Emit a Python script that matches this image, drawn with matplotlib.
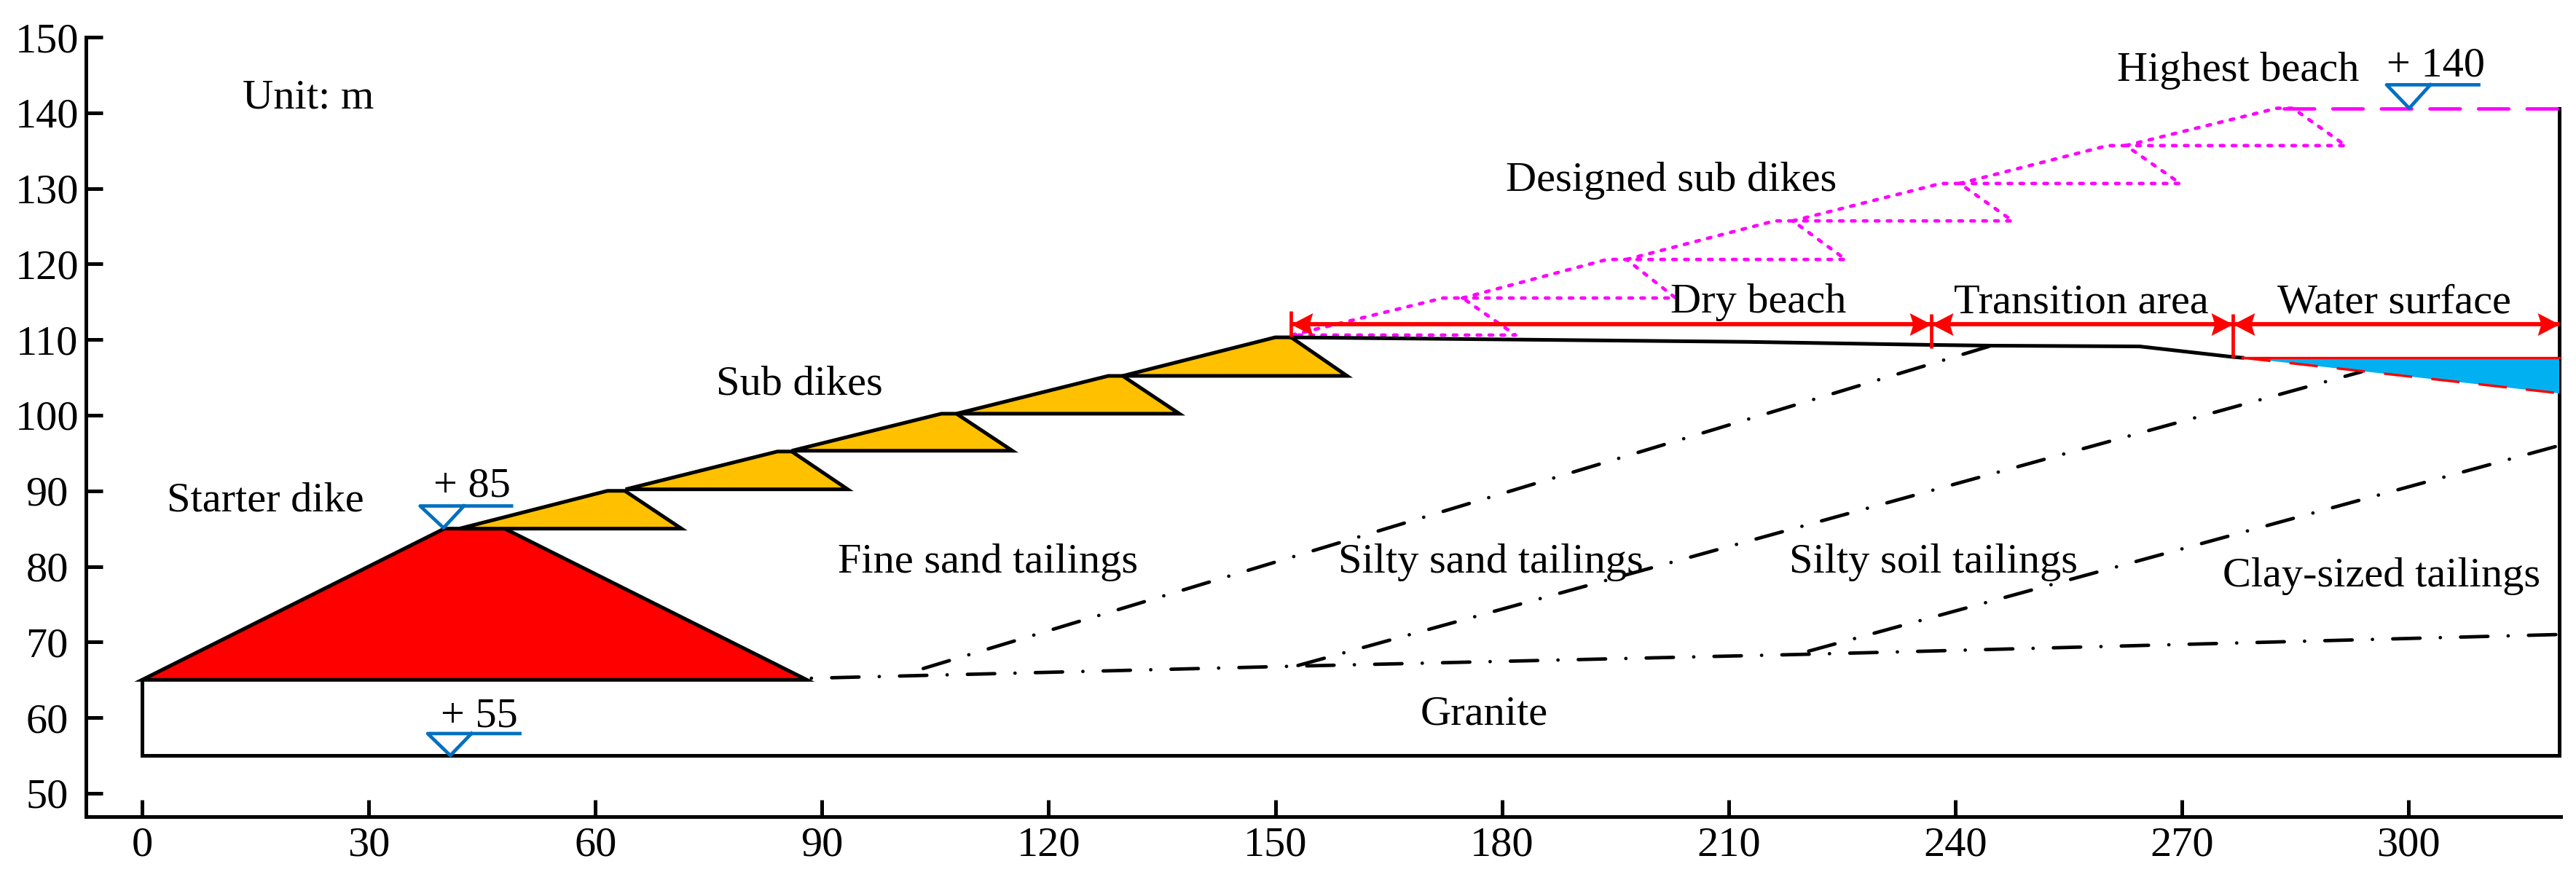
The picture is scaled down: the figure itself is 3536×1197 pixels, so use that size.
import matplotlib
matplotlib.use('Agg')
import matplotlib.pyplot as plt

plt.rcParams['font.family'] = ['Liberation Serif', 'DejaVu Serif']
plt.rcParams['lines.scale_dashes'] = False

W, H = 3537, 1197
FS = 42
LW = 3.6

x_ticks = list(range(0, 301, 30))
y_ticks = list(range(50, 151, 10))

starter_x = [0, 40, 48, 88]
starter_y = [65, 85, 85, 65]
found_x = [0, 0, 320, 320]
found_y = [65, 55, 55, 140.6]

# built sub dikes
sub_start = [42, 64, 86, 107.8, 129.8]
sub_crest_l = [61.6, 84.1, 105.8, 127.9, 150]
sub_crest_r = [63.9, 86, 107.8, 129.8, 152.1]
sub_tip = [71.4, 93.4, 115.2, 137.3, 159.5]
sub_base = [85, 90.2, 95.3, 100.2, 105.2]
sub_crest = [90, 95.2, 100.2, 105.2, 110.3]

# designed sub dikes
des_start = [152.2, 174.8, 196.5, 218.5, 240.6, 262.6]
des_crest_l = [172.2, 193.9, 216.1, 238.1, 260.2, 282.6]
des_crest_r = [174.8, 196.5, 218.5, 240.6, 262.6, 284.7]
des_tip = [181.8, 203, 225.5, 247.6, 269.8, 291.7]
des_base = [110.6, 115.5, 120.6, 125.7, 130.65, 135.66]
des_crest = [115.5, 120.6, 125.7, 130.65, 135.66, 140.6]
top_x = [283.5, 320]
top_y = [140.6, 140.6]

beach_x = [152.1, 212.6, 236.8, 244.8, 264.4, 276.8, 278]
beach_y = [110.3, 109.7, 109.3, 109.2, 109.1, 107.7, 107.6]

water_x = [278, 320, 320]
water_y = [107.6, 107.6, 102.9]

# tailings boundaries
bound_rock_x = [88, 152, 221, 320]
bound_rock_y = [65.2, 66.8, 68.4, 71]
bound1_x = [103.4, 244.8]
bound1_y = [66.5, 109.2]
bound2_x = [153, 293.8]
bound2_y = [66.9, 105.75]
bound3_x = [220.6, 320]
bound3_y = [68.8, 96]

# dimension line
dim_y = 112
dim_x = [152.1, 236.8, 276.8, 320]
bar_x = [152.1, 236.8, 276.8]
bar_top = [113.8, 113.4, 113.4]
bar_bot = [110.4, 108.9, 107.6]

# water level marks: apex, line start, line end, triangle right
lvl_apex_x = [39.9, 40.8, 300.1]
lvl_apex_y = [85.1, 55, 140.6]
lvl_top_y = [88, 57.9, 143.7]
lvl_left = [36.8, 37.8, 297.1]
lvl_right = [48.9, 50, 309.3]
lvl_tri_r = [42.6, 43.6, 302.9]

labels = [
    ('Unit: m', 13.3, 140.6),
    ('Starter dike', 3.3, 87.3),
    ('+ 85', 38.6, 89.25),
    ('+ 55', 39.5, 58.8),
    ('Sub dikes', 76, 102.7),
    ('Fine sand tailings', 92.1, 79.2),
    ('Silty sand tailings', 158.3, 79.2),
    ('Granite', 169.2, 59.1),
    ('Designed sub dikes', 180.5, 129.7),
    ('Dry beach', 202.3, 113.6),
    ('Highest beach', 261.4, 144.2),
    ('+ 140', 297.1, 144.8),
    ('Transition area', 239.8, 113.5),
    ('Water surface', 282.6, 113.5),
    ('Silty soil tailings', 218, 79.2),
    ('Clay-sized tailings', 275.4, 77.4),
]

fig = plt.figure(figsize=(W / 100, H / 100), dpi=100)
ax = fig.add_axes([118.3 / W, (H - 1120.5) / H, (3515 - 118.3) / W, (1120.5 - 51) / H])
ax.set_xlim(-7.4, 320.15)
ax.set_ylim(46.96, 150)

for s in ['top', 'right']:
    ax.spines[s].set_visible(False)
for s in ['left', 'bottom']:
    ax.spines[s].set_linewidth(LW)

ax.set_xticks(x_ticks)
ax.set_yticks(y_ticks)
ax.tick_params(axis='x', direction='in', length=16.5, width=LW, labelsize=FS, pad=10)
ax.tick_params(axis='y', direction='in', length=16.8, width=LW, labelsize=FS, pad=38.7)
for lab in ax.get_yticklabels():
    lab.set_ha('center')

ax.fill(starter_x, starter_y, fc='#FF0000', ec='black', lw=LW)
ax.plot(found_x, found_y, color='black', lw=LW, clip_on=False, solid_joinstyle='miter')

for i in range(len(sub_start)):
    ax.fill([sub_start[i], sub_crest_l[i], sub_crest_r[i], sub_tip[i]],
            [sub_base[i], sub_crest[i], sub_crest[i], sub_base[i]],
            fc='#FFC000', ec='black', lw=LW)

dots = (0, (3.5, 8.3))
for i in range(len(des_start)):
    ax.plot([des_start[i], des_crest_l[i], des_crest_r[i], des_tip[i], des_start[i]],
            [des_base[i], des_crest[i], des_crest[i], des_base[i], des_base[i]],
            color='#FF00FF', lw=3.4, ls=dots, dash_capstyle='round')
ax.plot(top_x, top_y, color='#FF00FF', lw=3.4, ls=(0, (30, 18)), dash_capstyle='round')

ax.plot(beach_x, beach_y, color='black', lw=LW)

# dash-dot boundaries
dd = (0, (27, 20, 0.1, 20))
dd_rock = (42.6, (27, 20, 0.1, 20))
ax.plot(bound_rock_x, bound_rock_y, color='black', lw=3.4, ls=dd_rock, dash_capstyle='round')
for bx, by in [(bound1_x, bound1_y), (bound2_x, bound2_y), (bound3_x, bound3_y)]:
    ax.plot(bx, by, color='black', lw=3.4, ls=dd, dash_capstyle='round')

ax.fill(water_x, water_y, fc='#00B0F0', ec='none', zorder=3)
ax.plot(water_x[:2], water_y[:2], color='#FF0000', lw=2.4, zorder=4)
ax.plot([water_x[0], water_x[2]], [water_y[0], water_y[2]], color='#FF0000', lw=2.4,
        ls=(0, (28, 19)), zorder=4)

# red dimension line with swept arrow heads
head_r = [(0, 0), (-1, 0.52), (-0.84, 0), (-1, -0.52)]
head_l = [(0, 0), (1, 0.52), (0.84, 0), (1, -0.52)]
for i in range(len(dim_x) - 1):
    ax.plot([dim_x[i], dim_x[i + 1]], [dim_y, dim_y], color='#FF0000', lw=4.2,
            solid_capstyle='butt', zorder=5)
    ax.plot([dim_x[i]], [dim_y], ls='none', marker=head_l, ms=43, mfc='#FF0000', mew=0, zorder=5)
    ax.plot([dim_x[i + 1]], [dim_y], ls='none', marker=head_r, ms=43, mfc='#FF0000', mew=0, zorder=5)
ax.vlines(bar_x, bar_bot, bar_top, color='#FF0000', lw=3.4, zorder=5)

for i in range(len(lvl_apex_x)):
    ax.plot([lvl_right[i], lvl_left[i], lvl_apex_x[i], lvl_tri_r[i]],
            [lvl_top_y[i], lvl_top_y[i], lvl_apex_y[i], lvl_top_y[i]],
            color='#0070C0', lw=3.4, zorder=6)

for t, x, y in labels:
    ax.text(x, y, t, fontsize=FS, ha='left', va='baseline', color='black', zorder=7)

fig.savefig('out.png', dpi=100, facecolor='white')
